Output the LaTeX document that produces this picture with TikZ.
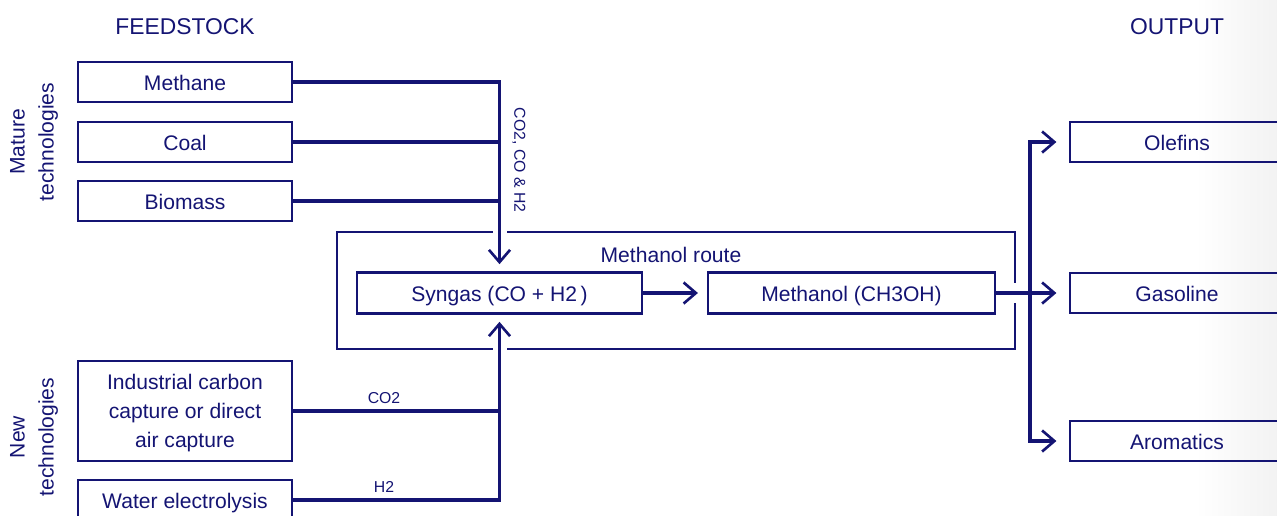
\documentclass[tikz,border=0pt]{standalone}
\usepackage{fontspec}
\setmainfont{Liberation Sans}
\usetikzlibrary{arrows.meta,positioning}
\definecolor{navy}{RGB}{20,20,115}

\begin{document}
\begin{tikzpicture}[x=0.02cm,y=-0.02cm,
    every node/.style={text=navy,font=\fontsize{12}{16.5}\selectfont},
    box/.style={draw=navy,line width=1.5pt,minimum width=4.28cm,minimum height=0.8cm,inner sep=0pt,align=center,text height=1em,text depth=0pt},
    link/.style={draw=navy,line width=1.8pt},
    head/.style={font=\fontsize{13}{15}\selectfont},
    lbl/.style={font=\fontsize{9}{10}\selectfont},
    >={Straight Barb[length=7pt,width=12pt,line width=1.5pt]}]
      \useasboundingbox (0,0) rectangle (1277,515);
      \fill[left color=white,right color=black!5] (1195,0) rectangle (1277,515);

      \node[head] at (185,27) {FEEDSTOCK};
      \node[head] at (1177,27) {OUTPUT};

      \node[box] (methane) at (185,82) {Methane};
      \node[box] (coal) at (185,142) {Coal};
      \node[box] (biomass) at (185,201) {Biomass};
      \node[box,minimum height=2cm,text height={},text depth={},yshift=0pt] (capture) at (185,411) {\strut Industrial carbon\\capture or direct\\air capture};
      \node[box] (water) at (185,500) {Water electrolysis};
      \node[rotate=90,align=center] at (34,142) {Mature\\technologies};
      \node[rotate=90,align=center] at (34,437) {New\\technologies};

      \node[draw=navy,line width=1.5pt,minimum width=13.56cm,minimum height=2.34cm] (route) at (676,290.5) {};
      \node at (671,255) {Methanol route};
      \node[box,minimum width=5.7cm,minimum height=0.82cm] (syngas) at (499.5,293) {Syngas (CO + H2\,)};
      \node[box,minimum width=5.74cm,minimum height=0.82cm] (methanol) at (851.5,293) {Methanol (CH3OH)};

      \node[box] (olefins) at (1177,142) {Olefins};
      \node[box] (gasoline) at (1177,293) {Gasoline};
      \node[box] (aromatics) at (1177,441) {Aromatics};

      % openings in the route frame where the flows pass
      \fill[white] (493,226) rectangle (507,238);
      \fill[white] (493,343) rectangle (507,355);
      \fill[white] (1009,283) rectangle (1021,303);

      \draw[link,->,shorten >=4pt] (methane.east) -| (syngas.north);
      \draw[link] (coal.east) -- (coal.east -| syngas.north);
      \draw[link] (biomass.east) -- (biomass.east -| syngas.north);
      \node[lbl,rotate=-90] at (519,160) {CO2, CO \& H2};

      \draw[link,->,shorten >=4pt] (water.east) -| node[lbl,above,pos=0.22] {H2} (syngas.south);
      \draw[link] (capture.east) -- node[lbl,above,pos=0.44] {CO2} (capture.east -| syngas.south);

      \draw[link,->,shorten >=5pt] (syngas) -- (methanol);
      \draw[link,->,shorten >=7pt] (methanol) -- (gasoline);
      \coordinate (split) at (1030,293);
      \draw[link,->,shorten >=7pt] (split) |- (olefins.west);
      \draw[link,->,shorten >=7pt] (split) |- (aromatics.west);
    \end{tikzpicture}
\end{document}
